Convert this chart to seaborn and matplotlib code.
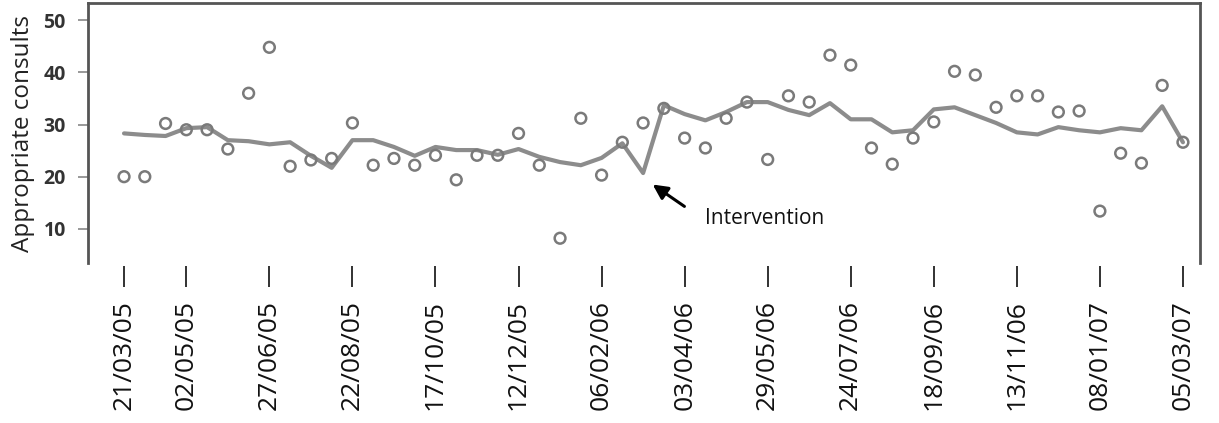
"""Appropriate consults over time, with intervention marked."""

import numpy as np
import pandas as pd
import matplotlib
matplotlib.use('Agg')
import matplotlib.pyplot as plt
import matplotlib.dates as mdates
import seaborn as sns

# fortnightly observations, 21/03/05 .. 05/03/07
start_date = '2005-03-21'
n_points = 52
consults = [20, 20, 30.2, 29, 29, 25.3, 36, 44.8, 22, 23.2,
            23.5, 30.3, 22.2, 23.5, 22.2, 24.1, 19.4, 24.1, 24.1, 28.3,
            22.2, 8.2, 31.2, 20.3, 26.6, 30.3, 33.1, 27.4, 25.5, 31.2,
            34.3, 23.3, 35.5, 34.3, 43.3, 41.4, 25.5, 22.4, 27.4, 30.5,
            40.2, 39.5, 33.3, 35.5, 35.5, 32.4, 32.6, 13.4, 24.5, 22.6,
            37.5, 26.6]
trend = [28.3, 28.0, 27.8, 29.3, 29.5, 27.0, 26.8, 26.2, 26.6, 24.0,
         21.7, 27.0, 27.0, 25.7, 24.0, 25.7, 25.1, 25.1, 24.2, 25.3,
         23.8, 22.8, 22.2, 23.6, 26.4, 20.7, 33.7, 32.0, 30.8, 32.4,
         34.3, 34.3, 32.8, 31.8, 34.1, 31.0, 31.0, 28.5, 28.9, 32.9,
         33.3, 31.8, 30.3, 28.5, 28.1, 29.5, 28.9, 28.5, 29.3, 28.9,
         33.5, 26.6]
tick_dates = ['2005-03-21', '2005-05-02', '2005-06-27', '2005-08-22',
              '2005-10-17', '2005-12-12', '2006-02-06', '2006-04-03',
              '2006-05-29', '2006-07-24', '2006-09-18', '2006-11-13',
              '2007-01-08', '2007-03-05']
tick_labels = ['21/03/05', '02/05/05', '27/06/05', '22/08/05', '17/10/05',
               '12/12/05', '06/02/06', '03/04/06', '29/05/06', '24/07/06',
               '18/09/06', '13/11/06', '08/01/07', '05/03/07']
y_ticks = [10, 20, 30, 40, 50]

df = pd.DataFrame({
    'date': pd.date_range(start_date, periods=n_points, freq='14D'),
    'consults': consults,
    'trend': trend,
})

sns.set_style('white')
plt.rcParams['font.family'] = ['Open Sans', 'DejaVu Sans']

W, H = 1219, 423
fig = plt.figure(figsize=(W / 100, H / 100), dpi=100)
ax = fig.add_axes([88 / W, 1 - 263 / H, (1200 - 88) / W, 260 / H])

sns.lineplot(data=df, x='date', y='trend', ax=ax, color='#8c8c8c',
             linewidth=3.0, zorder=2)
sns.scatterplot(data=df, x='date', y='consults', ax=ax, marker='o', s=60,
                facecolor='none', edgecolor='#7a7a7a', linewidth=1.8,
                zorder=3)

ax.set_ylim(3.45, 53.3)
ax.set_xlim(df['date'].iloc[0] - pd.Timedelta(days=24.3),
            df['date'].iloc[-1] + pd.Timedelta(days=11.5))

ax.set_yticks(y_ticks)
ax.set_yticklabels([str(v) for v in y_ticks])
ax.set_xticks(pd.to_datetime(tick_dates))
ax.set_xticklabels(tick_labels)

ax.tick_params(axis='y', direction='out', length=7, width=1.2,
               color='#888888', pad=9, left=True, labelsize=14,
               labelcolor='#333333')
ax.tick_params(axis='x', direction='out', length=15, width=1.3,
               color='#222222', pad=9, bottom=True, labelsize=19,
               labelrotation=90, labelcolor='#111111')
for lbl in ax.get_yticklabels():
    lbl.set_fontweight('bold')

ax.set_xlabel('')
ax.set_ylabel('Appropriate consults', fontsize=17.5, color='#222222')
ax.yaxis.set_label_coords(-0.048, 0.5)

for side in ['left', 'top', 'right']:
    ax.spines[side].set_color('#555555')
    ax.spines[side].set_linewidth(2)
ax.spines['bottom'].set_position(('outward', 2.5))
ax.spines['bottom'].set_visible(False)

# intervention arrow
base = df['date'].iloc[0]
head_x = mdates.date2num(base + pd.Timedelta(days=25.35 * 14))
tail_x = mdates.date2num(base + pd.Timedelta(days=27.1 * 14))
ax.annotate('', xy=(head_x, 18.8), xytext=(tail_x, 14.0),
            arrowprops=dict(arrowstyle='-|>', color='black', lw=2.2,
                            mutation_scale=22))
text_x = mdates.date2num(base + pd.Timedelta(days=28.0 * 14))
ax.text(text_x, 11.9, 'Intervention', fontsize=15, color='#111111',
        va='center', ha='left')

fig.savefig('out.png', dpi=100)
plt.close(fig)
